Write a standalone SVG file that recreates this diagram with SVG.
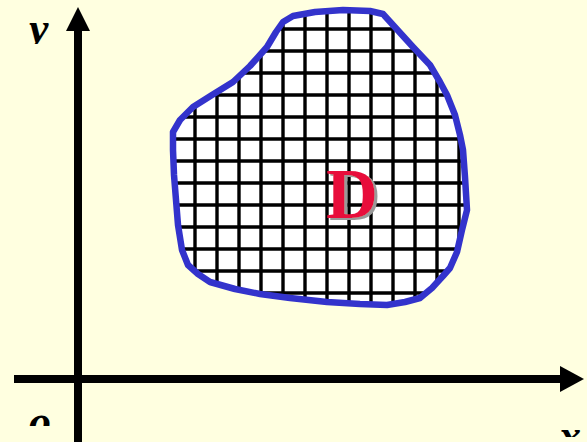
<svg xmlns="http://www.w3.org/2000/svg" width="587" height="442" viewBox="0 0 587 442">
<style>
.axis{stroke:#000;stroke-width:8;fill:none}
.grid{stroke:#000;stroke-width:3.4;fill:none}
.outline{stroke:#3333CC;stroke-width:6.5;fill:none;stroke-linejoin:round}
.lbl{font-family:"Liberation Serif",serif;font-style:italic;font-weight:bold;font-size:44px;fill:#000}
.D{font-family:"Liberation Serif",serif;font-weight:bold;font-size:72px;fill:#E8103A}
</style>
<defs>
<path id="blob" d="M173,132 L180,120 L193,107 L212,95 L233,82 L250,66 L267,47 L276,32 L283,22 L293,16 L315,12 L343,10 L370,11 L383,14 L393,25 L413,47 L430,65 L440,82 L447,95 L455,115 L460,135 L463,150 L465,177 L467,210 L462,230 L457,252 L450,268 L443,276 L432,288 L420,298 L405,302 L387,305 L360,304 L327,302 L290,298 L260,294 L235,289 L210,282 L198,274 L188,265 L182,250 L178,225 L176,200 L174,175 L173,150 Z"/>
<clipPath id="blobClip"><use href="#blob"/></clipPath>
<clipPath id="clipY"><rect x="0" y="0" width="70" height="44"/></clipPath>
<clipPath id="clipO"><rect x="0" y="400" width="70" height="26"/></clipPath>
<clipPath id="clipX"><rect x="540" y="400" width="47" height="37"/></clipPath>
<filter id="shadow" x="-20%" y="-20%" width="150%" height="150%">
<feDropShadow dx="3" dy="2" stdDeviation="0.4" flood-color="#999999" flood-opacity="1"/>
</filter>
</defs>
<rect width="587" height="442" fill="#FFFFE0"/>
<g id="region">
<use href="#blob" fill="#FFFFFF"/>
<g clip-path="url(#blobClip)" class="grid">
<path d="M195,0V320M217,0V320M239,0V320M261,0V320M283,0V320M305,0V320M327,0V320M349,0V320M371,0V320M393,0V320M415,0V320M437,0V320M459,0V320"/>
<path d="M160,29H480M160,51H480M160,73H480M160,95H480M160,117H480M160,139H480M160,161H480M160,183H480M160,205H480M160,227H480M160,249H480M160,271H480M160,293H480"/>
</g>
<use href="#blob" class="outline"/>
<text class="D" x="326" y="218" filter="url(#shadow)">D</text>
</g>
<g id="connectors">
<line class="axis" x1="78" y1="442" x2="78" y2="26"/>
<polygon points="78,7 66,31 90,31" fill="#000"/>
<line class="axis" x1="14" y1="379" x2="564" y2="379"/>
<polygon points="584,379 560,366 560,392" fill="#000"/>
</g>
<g id="labels">
<text class="lbl" x="29" y="43" clip-path="url(#clipY)">y</text>
<text class="lbl" x="29" y="436" clip-path="url(#clipO)">o</text>
<text class="lbl" x="559" y="450" clip-path="url(#clipX)">x</text>
</g>
</svg>
